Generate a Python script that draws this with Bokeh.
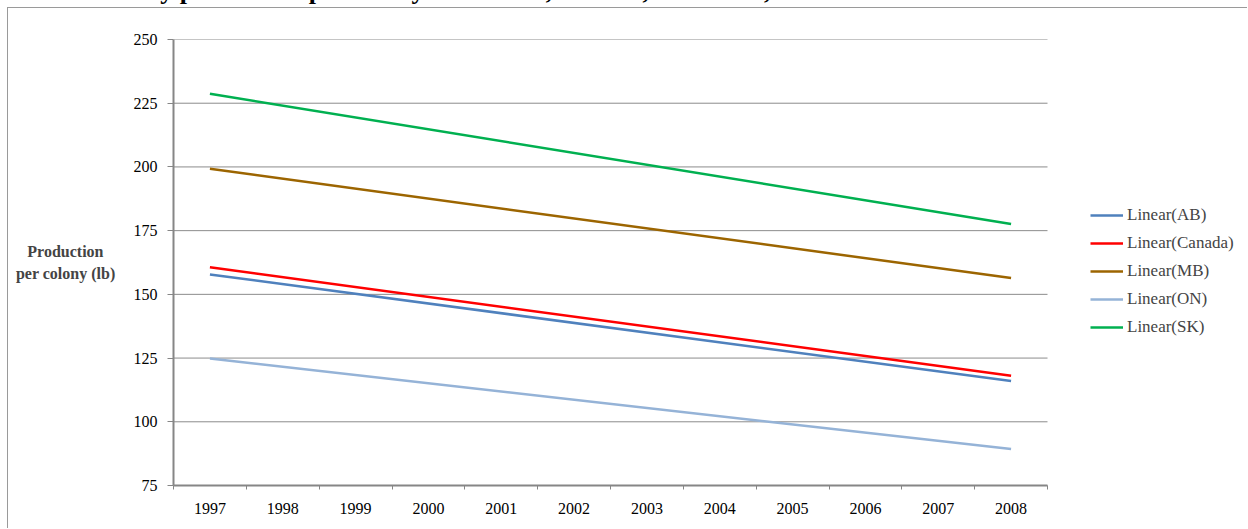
from bokeh.plotting import figure
from bokeh.models import (FixedTicker, Legend, LegendItem, Range1d, Div, Spacer)
from bokeh.layouts import column, row
from bokeh.embed import file_html
from bokeh.resources import INLINE

# ---- data (linear trend lines) ----
years = [1997, 2008]
tick_years = list(range(1997, 2009))
series_names = ["Linear(AB)", "Linear(Canada)", "Linear(MB)", "Linear(ON)", "Linear(SK)"]
ab = [157.8, 116.0]
canada = [160.6, 118.1]
mb = [199.3, 156.4]
on = [124.8, 89.3]
sk = [228.7, 177.6]
y_ticks = [75, 100, 125, 150, 175, 200, 225, 250]
title_text = "Chart 4: Honey production per colony in Canada, Alberta, Manitoba, Ontario and Saskatchewan"
y_title = "Production\u00a0\u00a0\u00a0\nper colony (lb)"

colors = ["#4F81BD", "#FF0000", "#9C6500", "#95B3D7", "#00B050"]
FONT = "Liberation Serif"

PAGE_W, PAGE_H = 1248, 529
OX, OY = 8, 8                     # where the figure canvas starts on the page
W, H = PAGE_W - OX, PAGE_H - OY
FL, FT, FR, FB = 173 - OX, 39 - OY, 1047 - OX, 485 - OY   # axes box in canvas px
x0, x1 = 1996.5, 2008.5
x_end = x0 + (x1 - x0) * (W - FL) / (FR - FL)

p = figure(width=W, height=H, output_backend="svg", toolbar_location=None,
           x_range=Range1d(x0, x_end), y_range=Range1d(75, 250),
           min_border_left=FL, min_border_right=0,
           min_border_top=FT, min_border_bottom=H - FB)
p.outline_line_color = None
p.background_fill_color = "white"
p.border_fill_color = "white"
p.styles = {"border-top": "1px solid #9a9a9a", "border-left": "1px solid #9a9a9a"}

# axes
p.xaxis.ticker = FixedTicker(ticks=tick_years, minor_ticks=[y + 0.5 for y in range(1996, 2009)])
p.xaxis.bounds = (x0, x1)
p.xaxis.major_tick_out = 0
p.xaxis.major_tick_in = 0
p.xaxis.minor_tick_out = 4
p.xaxis.minor_tick_in = 0
p.xaxis.axis_line_color = "#868686"
p.xaxis.axis_line_width = 2
p.xaxis.minor_tick_line_color = "#868686"
p.xaxis.major_label_standoff = 13

p.yaxis.ticker = FixedTicker(ticks=y_ticks)
p.yaxis.bounds = (75, 250)
p.yaxis.major_tick_out = 6
p.yaxis.major_tick_in = 0
p.yaxis.minor_tick_out = 0
p.yaxis.minor_tick_in = 0
p.yaxis.axis_line_color = "#868686"
p.yaxis.axis_line_width = 2
p.yaxis.major_tick_line_color = "#868686"
p.yaxis.major_label_standoff = 10
p.yaxis.axis_label = y_title
p.yaxis.axis_label_orientation = "horizontal"
p.yaxis.axis_label_text_font = FONT
p.yaxis.axis_label_text_font_size = "16px"
p.yaxis.axis_label_text_font_style = "bold"
p.yaxis.axis_label_text_line_height = 1.3
p.yaxis.axis_label_standoff = 15

for ax in (p.xaxis, p.yaxis):
    ax.major_label_text_font = FONT
    ax.major_label_text_font_size = "16px"
    ax.major_label_text_color = "black"

p.xgrid.grid_line_color = None
p.ygrid.grid_line_color = None
# horizontal grid lines, limited to the axes box
p.segment(x0=[x0] * len(y_ticks), y0=y_ticks, x1=[x1] * len(y_ticks), y1=y_ticks,
          line_color="#8c8c8c", line_width=1)

# lines
renderers = []
for vals, c in zip([ab, canada, mb, on, sk], colors):
    r = p.line(years, vals, line_color=c, line_width=2.5)
    renderers.append(r)

legend = Legend(items=[LegendItem(label=n, renderers=[r]) for n, r in zip(series_names, renderers)],
                location=(1090 - 173, 485 - 337), orientation="vertical",
                glyph_width=33, glyph_height=20, label_height=20, label_standoff=4,
                spacing=8, padding=0, margin=0, border_line_color=None,
                background_fill_alpha=0,
                label_text_font=FONT, label_text_font_size="17px")
p.add_layout(legend)

# page title, cut off at the top edge as in the source
title_div = Div(
    text=('<div style="position:relative; top:-22px; font-family:\'Liberation Serif\';'
          ' font-weight:bold; font-size:26px; line-height:26px; white-space:nowrap;">'
          + title_text + '</div>'),
    width=PAGE_W, height=OY - 1,
    styles={"overflow": "hidden", "margin": "0", "padding": "0"})

layout = column(title_div, row(Spacer(width=OX - 1, height=H), p, spacing=0), spacing=0)

open("out.html", "w").write(file_html(layout, INLINE))
